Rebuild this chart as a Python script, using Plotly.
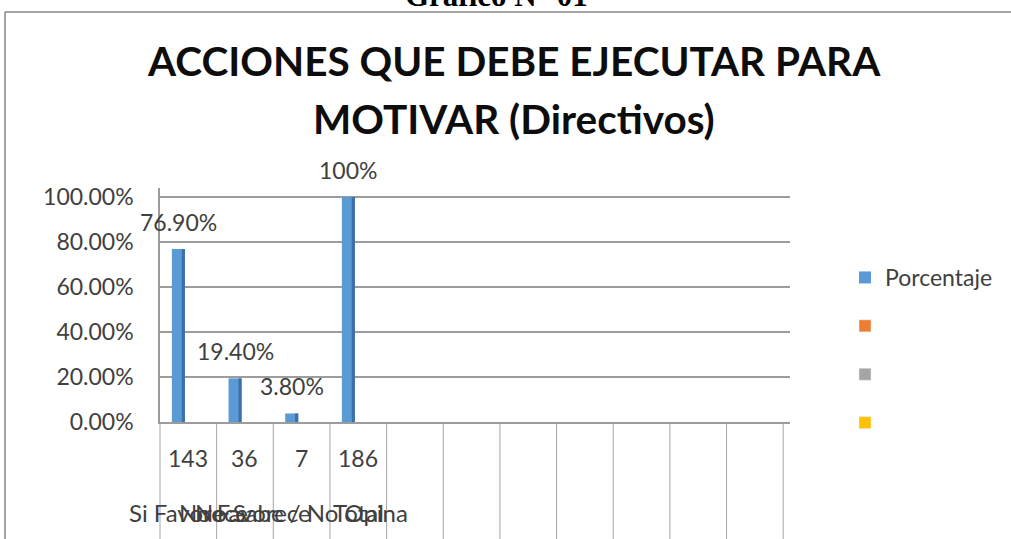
import plotly.graph_objects as go

# ---- data ----
categories = ["Si Favorece", "No Favorece", "No Sabe / No Opina", "Total"]
counts = ["143", "36", "7", "186"]
porcentaje = [0.769, 0.194, 0.038, 1.0]
value_labels = ["76.90%", "19.40%", "3.80%", "100%"]
legend_names = ["Porcentaje", "", "", ""]
series_colors = ["#5B9BD5", "#ED7D31", "#A5A5A5", "#FFC000"]
n_slots = 11  # category slots in the source range (incl. empty rows)

# ---- geometry (pixels) ----
WIDTH, HEIGHT = 1011, 539
L, R, T, B = 160, 790, 188, 422
W, H = R - L, B - T
XMIN, XMAX = -0.5, n_slots - 0.5 + 0.12
YMAX = 1.04

def px_x(p):
    return (p - L) / W

def px_y(p):
    return (B - p) / H

def dx_paper(xd):
    return (xd - XMIN) / (XMAX - XMIN)

FONT = "Lato"
TXT = "#404040"
GRID = "#9c9c9c"

BAR_OFFSET, BAR_W = -0.29, 0.23
SIDE_OFFSET, SIDE_W = -0.115, 0.055

xs = list(range(len(categories)))

fig = go.Figure()
fig.add_trace(go.Bar(x=xs, y=porcentaje, name=legend_names[0],
                     marker=dict(color=series_colors[0], line=dict(width=0)),
                     offset=BAR_OFFSET, width=BAR_W, legendgroup="a"))
fig.add_trace(go.Bar(x=xs, y=porcentaje, showlegend=False, hoverinfo="skip",
                     marker=dict(color="#3E70A8", line=dict(width=0)),
                     offset=SIDE_OFFSET, width=SIDE_W, legendgroup="a"))
for k, grp in zip(range(1, 4), ["b", "c", "d"]):
    fig.add_trace(go.Bar(x=xs, y=[None] * len(xs), name=legend_names[k],
                         marker=dict(color=series_colors[k]), legendgroup=grp,
                         offset=BAR_OFFSET, width=BAR_W))

annotations = []
# chart title
annotations.append(dict(text="<b>ACCIONES QUE DEBE EJECUTAR PARA</b>", xref="paper", yref="paper",
                        x=px_x(514), y=px_y(61), xanchor="center", yanchor="middle",
                        showarrow=False, font=dict(family=FONT, size=40.5, color="#0d0d0d")))
annotations.append(dict(text="<b>MOTIVAR (Directivos)</b>", xref="paper", yref="paper",
                        x=px_x(514), y=px_y(118.5), xanchor="center", yanchor="middle",
                        showarrow=False, font=dict(family=FONT, size=40.5, color="#0d0d0d")))
# document caption cut at top
annotations.append(dict(text="<b>Gráfico N° 01</b>", xref="paper", yref="paper",
                        x=px_x(496), y=px_y(-4.5), xanchor="center", yanchor="middle",
                        showarrow=False, font=dict(family="Liberation Serif", size=31, color="#000000")))
# value labels
for i, (v, lab) in enumerate(zip(porcentaje, value_labels)):
    annotations.append(dict(text=lab, xref="x", yref="y", x=i + BAR_OFFSET + BAR_W / 2, y=v,
                            yshift=27, xanchor="center", yanchor="middle", showarrow=False,
                            font=dict(family=FONT, size=23, color=TXT)))
# data table under axis
for i, (c, name) in enumerate(zip(counts, categories)):
    annotations.append(dict(text=c, xref="x", yref="paper", x=i, y=px_y(458),
                            xanchor="center", yanchor="middle", showarrow=False,
                            font=dict(family=FONT, size=23, color=TXT)))
    annotations.append(dict(text=name, xref="x", yref="paper", x=i, y=px_y(512),
                            xanchor="center", yanchor="middle", showarrow=False,
                            font=dict(family=FONT, size=24, color=TXT)))

shapes = []
for k in range(n_slots + 1):
    xp = dx_paper(k - 0.5)
    shapes.append(dict(type="line", xref="paper", yref="paper", x0=xp, x1=xp,
                       y0=px_y(423), y1=px_y(545), line=dict(color="#a6a6a6", width=1)))
# outer chart border
shapes.append(dict(type="line", xref="paper", yref="paper", x0=px_x(5), x1=px_x(1015),
                   y0=px_y(12), y1=px_y(12), line=dict(color="#868686", width=1.5)))
shapes.append(dict(type="line", xref="paper", yref="paper", x0=px_x(5), x1=px_x(5),
                   y0=px_y(12), y1=px_y(545), line=dict(color="#868686", width=1.5)))

fig.update_layout(
    width=WIDTH, height=HEIGHT,
    margin=dict(l=L, r=WIDTH - R, t=T, b=HEIGHT - B, pad=0),
    paper_bgcolor="white", plot_bgcolor="white",
    barmode="overlay",
    showlegend=True,
    legend=dict(x=px_x(845), y=px_y(256), xanchor="left", yanchor="top",
                font=dict(family=FONT, size=23, color=TXT), tracegroupgap=15.5,
                bgcolor="rgba(0,0,0,0)", traceorder="grouped"),
    xaxis=dict(range=[XMIN, XMAX], showticklabels=False, showgrid=False, zeroline=False,
               showline=True, linecolor=GRID, linewidth=2, ticks=""),
    yaxis=dict(range=[0, YMAX], tickvals=[0, 0.2, 0.4, 0.6, 0.8, 1.0], tickformat=".2%",
               showgrid=True, gridcolor=GRID, gridwidth=1.5, zeroline=False,
               showline=True, linecolor=GRID, linewidth=1.5, ticks="",
               ticklabelstandoff=20, tickfont=dict(family=FONT, size=23, color=TXT)),
    annotations=annotations,
    shapes=shapes,
)

fig.write_html("out.html", config={"displayModeBar": False},
               post_script="document.body.style.margin='0';document.body.style.overflow='hidden';")
